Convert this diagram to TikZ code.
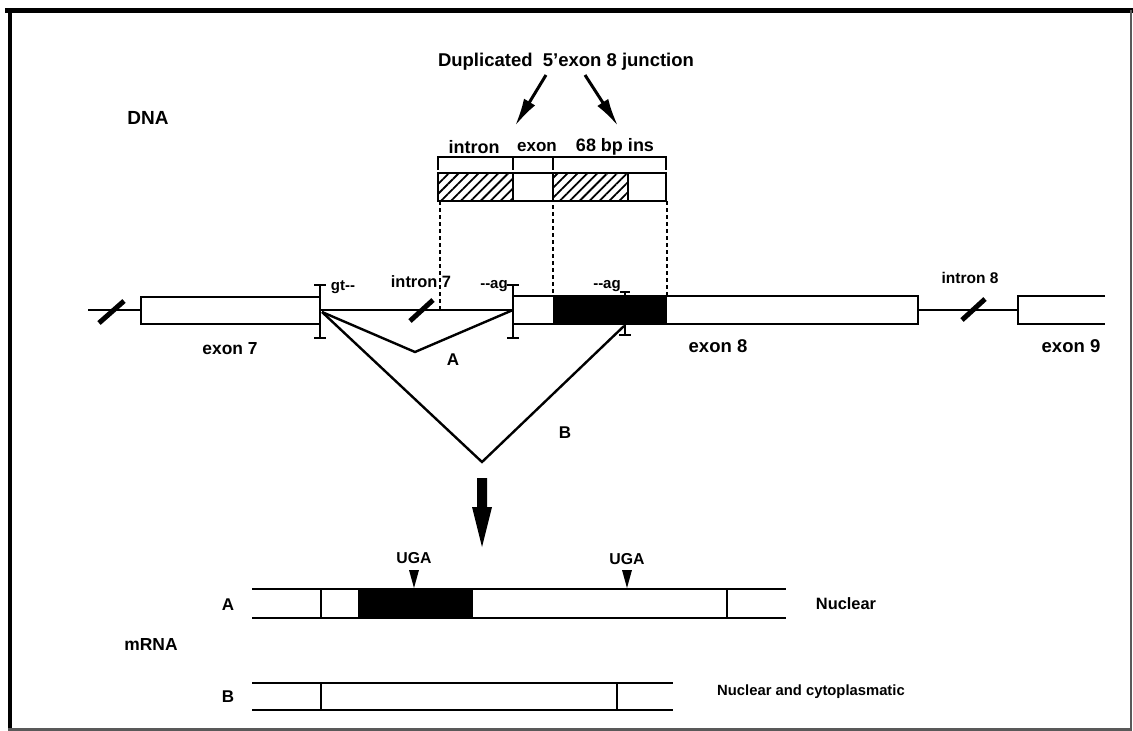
\documentclass[tikz,border=0pt]{standalone}
\usepackage{fontspec}
\setmainfont{Liberation Sans}
\usetikzlibrary{arrows.meta,patterns.meta}
\begin{document}
\begin{tikzpicture}[x=1pt,y=-1pt,
  lbl/.style={inner sep=0pt, font=\fontsize{17}{20}\selectfont\bfseries},
  fs/.style={font=\fontsize{#1}{#1}\selectfont\bfseries},
  ln/.style={line width=2pt},
  brk/.style={line width=5pt},
  spl/.style={line width=2.4pt, line join=miter},
  ibar/.style={line width=2.4pt},
  dsh/.style={line width=1.5pt, dash pattern=on 4pt off 3pt},
  hatch/.style={pattern={Lines[angle=45,distance=7pt,line width=1.8pt]}},
  dup/.style={line width=3pt, -{Latex[length=28pt 0,width=13pt 0]}},
]
\useasboundingbox (0,0) rectangle (1133,731);
% frame
\draw[line width=5pt] (5,10.5) -- (1133,10.5);
\draw[line width=4pt] (10,8.5) -- (10,731);
\draw[line width=2.5pt, black!65] (1131,10) -- (1131,729.5);
\draw[line width=2.5pt, black!65] (8,729.5) -- (1132,729.5);

% top labels
\node[lbl, fs=19] (dna) at (148,118) {DNA};
\node[lbl, fs=18.5] (dup) at (566,62) {Duplicated\ \ 5'exon 8 junction};
\coordinate (d1s) at (546,75);
\coordinate (d1e) at (515,126);
\coordinate (d2s) at (585,75);
\coordinate (d2e) at (618,126);
\draw[dup] (d1s) -- (d1e);
\draw[dup] (d2s) -- (d2e);

\node[lbl, fs=18] (lint) at (474,147) {intron};
\node[lbl, fs=17] (lexo) at (537,147) {exon};
\node[lbl, fs=18] (lins) at (615,147) {68 bp ins};

% bracket
\draw[ln] (438,170) -- (438,157) -- (666,157) -- (666,170);
\draw[ln] (513,157) -- (513,170);
\draw[ln] (553,157) -- (553,170);

% hatched insert
\fill[hatch] (438,173) rectangle (513,201);
\fill[hatch] (553,173) rectangle (628,201);
\draw[ln] (438,173) rectangle (666,201);
\draw[ln] (513,173) -- (513,201);
\draw[ln] (553,173) -- (553,201);
\draw[ln] (628,173) -- (628,201);

% dashed projections
\draw[dsh] (440,201) -- (440,309);
\draw[dsh] (553,205) -- (553,296);
\draw[dsh] (667,201) -- (667,296);

% gene
\draw[ln] (88,310) -- (141,310);
\draw[ln] (141,297) rectangle (320,324);
\draw[ln] (320,310) -- (513,310);
\fill (553,296) rectangle (667,324);
\draw[ln] (513,296) rectangle (918,324);
\draw[ln] (918,310) -- (1018,310);
\draw[ln] (1105,296) -- (1018,296) -- (1018,324) -- (1105,324);
\draw[brk] (99,323) -- (124,301);
\draw[brk] (410,321) -- (433,300);
\draw[brk] (962,320) -- (985,299);

% splice site bars
\draw[ibar] (320,285) -- (320,338);
\draw[ibar] (314,285) -- (326,285);
\draw[ibar] (314,338) -- (326,338);
\draw[ibar] (513,285) -- (513,338);
\draw[ibar] (507,285) -- (519,285);
\draw[ibar] (507,338) -- (519,338);
\draw[ibar] (625,292) -- (625,335);
\draw[ibar] (620,292) -- (630,292);
\draw[ibar] (619,335) -- (631,335);

\node[lbl, fs=15] (gt) at (343,287) {gt{-}{-}};
\node[lbl, fs=15] (ag1) at (494,286) {{-}{-}ag};
\node[lbl, fs=15] (ag2) at (607,286) {{-}{-}ag};
\node[lbl, fs=16.4] (i7) at (421,282) {intron 7};
\node[lbl, fs=15.5] (i8) at (970,278) {intron 8};
\node[lbl, fs=17.4] (e7) at (230,349) {exon 7};
\node[lbl, fs=18.5] (e8) at (718,346) {exon 8};
\node[lbl, fs=18.5] (e9) at (1071,346) {exon 9};

% splicing
\coordinate (don) at (322,312);
\coordinate (accA) at (513,310);
\coordinate (vA) at (415,352);
\coordinate (accB) at (624,326);
\coordinate (vB) at (482,462);
\draw[spl] (don) -- (vA) -- (accA);
\draw[spl] (don) -- (vB) -- (accB);
\node[lbl] (la) at (453,360) {A};
\node[lbl] (lb) at (565,433) {B};

% big arrow
\fill (477,478) -- (487,478) -- (487,507) -- (492,507) -- (482,547) -- (472,507) -- (477,507) -- cycle;

% mRNA
\node[lbl, fs=17.4] (mrna) at (151,645) {mRNA};
\draw[ln] (252,589) -- (786,589);
\draw[ln] (252,618) -- (786,618);
\fill (358,589) rectangle (473,618);
\draw[ln] (321,589) -- (321,618);
\draw[ln] (727,589) -- (727,618);
\fill (409,570) -- (419,570) -- (414,588) -- cycle;
\fill (622,570) -- (632,570) -- (627,588) -- cycle;
\node[lbl, fs=15.8] (uga1) at (414,558) {UGA};
\node[lbl, fs=15.8] (uga2) at (627,559) {UGA};
\node[lbl] (ra) at (228,605) {A};
\node[lbl, fs=16.4] (nuc) at (846,604) {Nuclear};

\draw[ln] (252,683) -- (673,683);
\draw[ln] (252,710) -- (673,710);
\draw[ln] (321,683) -- (321,710);
\draw[ln] (617,683) -- (617,710);
\node[lbl] (rb) at (228,697) {B};
\node[lbl, fs=14.8] (nucc) at (811,692) {Nuclear and cytoplasmatic};
\end{tikzpicture}
\end{document}
